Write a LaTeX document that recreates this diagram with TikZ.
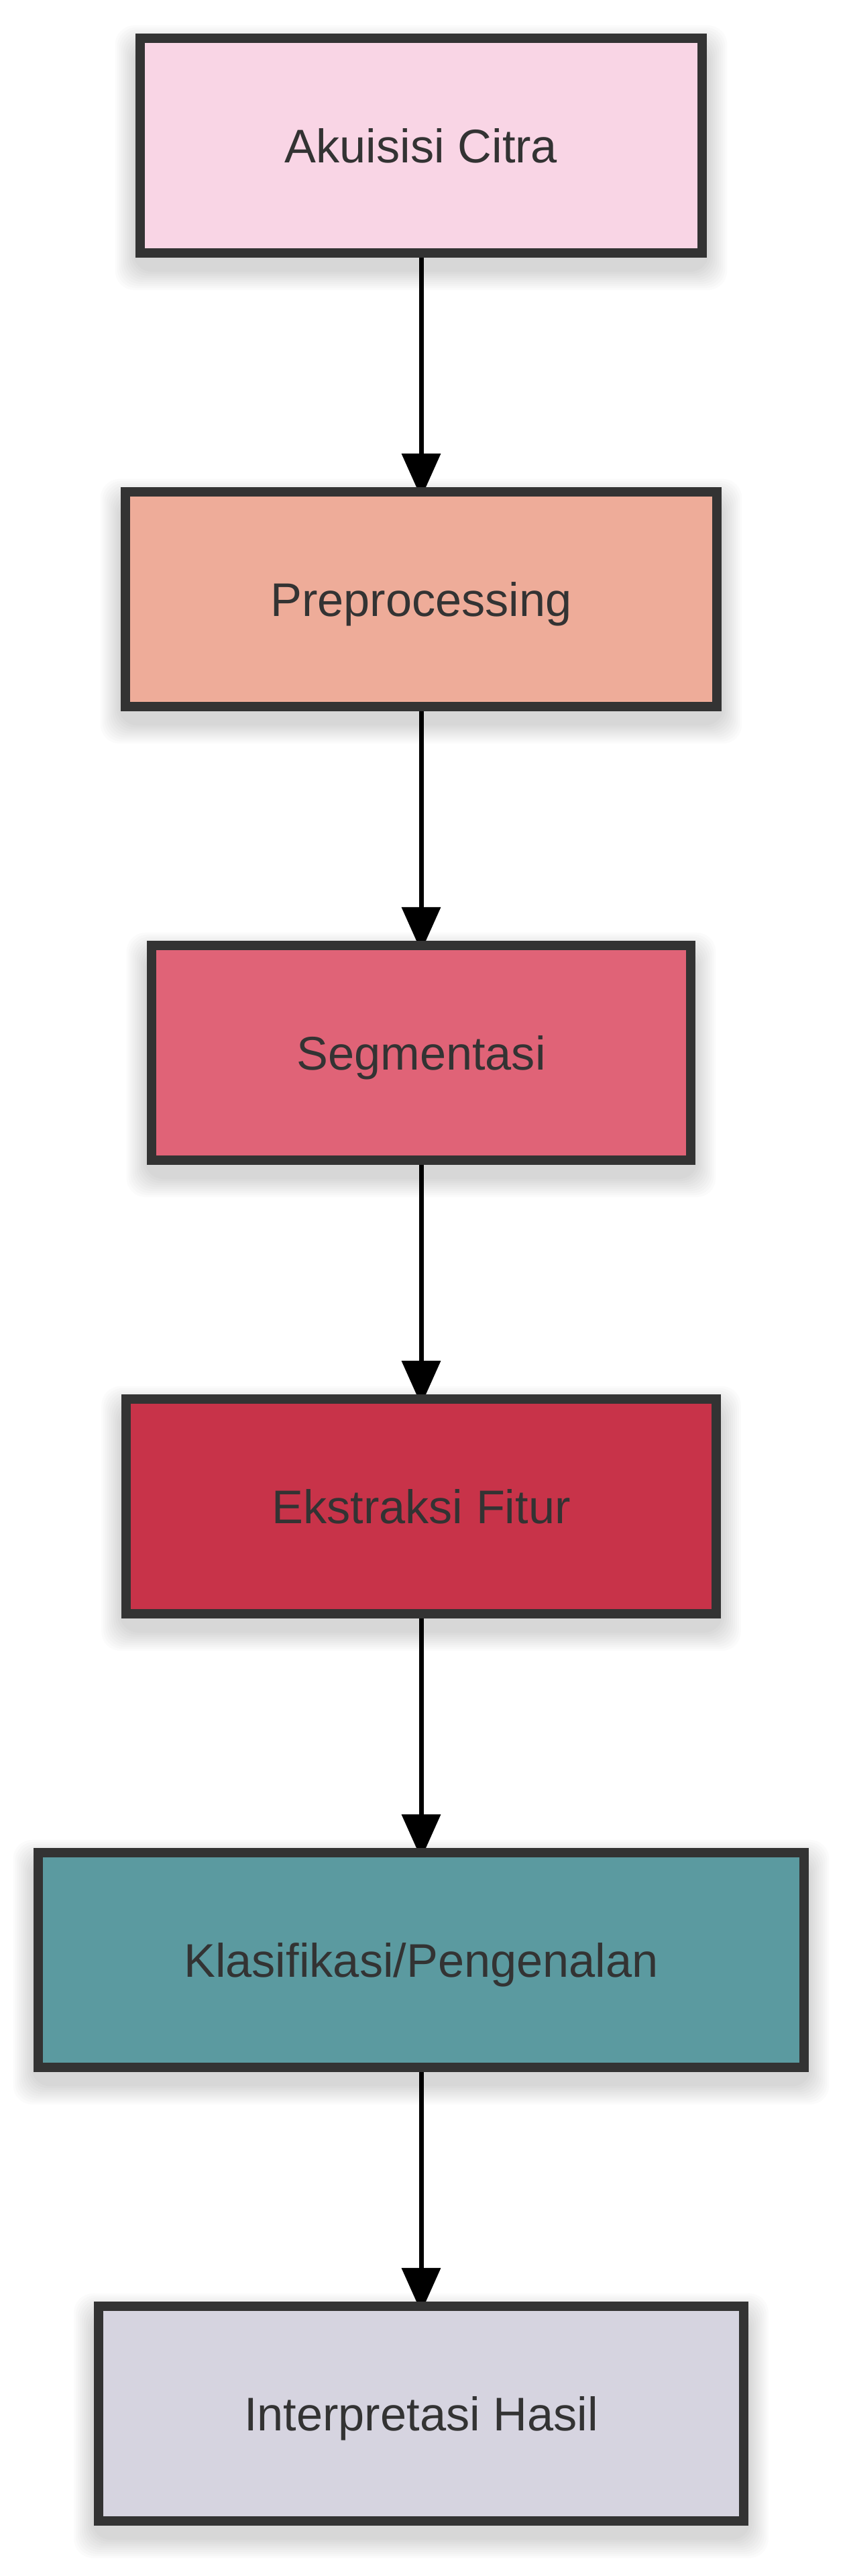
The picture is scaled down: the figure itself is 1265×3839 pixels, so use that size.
\documentclass[tikz,border=0pt]{standalone}
\usepackage{fontspec}
\setmainfont{Liberation Sans}
\usetikzlibrary{arrows.meta}
\definecolor{cA}{HTML}{F9D5E5}
\definecolor{cB}{HTML}{EEAC99}
\definecolor{cC}{HTML}{E06377}
\definecolor{cD}{HTML}{C83349}
\definecolor{cE}{HTML}{5B9AA0}
\definecolor{cF}{HTML}{D6D4E0}
\definecolor{edge}{HTML}{333333}
\pgfdeclarelayer{shadowlayer}
\pgfdeclarelayer{bglayer}
\pgfsetlayers{shadowlayer,bglayer,main}
\begin{document}
\begin{tikzpicture}[x=0.01cm,y=-0.01cm,
  stepbox/.style={draw=edge, line width=0.14cm, minimum height=3.2cm,
    text=edge, font=\fontsize{20}{24}\selectfont,
    text height=14.3pt, text depth=0pt, inner sep=0pt},
  conn/.style={line width=0.07cm, draw=black,
    -{Triangle[length=0.66cm,width=0.57cm]}}]
\useasboundingbox (0,0) rectangle (1265,3839);
\node[stepbox, fill=cA, minimum width=8.38cm] (a) at (628,217) {Akuisisi Citra};
\node[stepbox, fill=cB, minimum width=8.82cm] (b) at (628,893) {Preprocessing};
\node[stepbox, fill=cC, minimum width=8.04cm] (c) at (628,1569) {Segmentasi};
\node[stepbox, fill=cD, minimum width=8.79cm] (d) at (628,2245) {Ekstraksi Fitur};
\node[stepbox, fill=cE, minimum width=11.42cm] (e) at (628,2921) {Klasifikasi/Pengenalan};
\node[stepbox, fill=cF, minimum width=9.61cm] (f) at (628,3597) {Interpretasi Hasil};
\begin{pgfonlayer}{shadowlayer}
\fill[white] (0,0) rectangle (1265,3839);
\foreach \n in {a,b,c,d,e,f}{
  \foreach \i in {1,...,10}{
    \fill[black, opacity=0.016, rounded corners=8pt]
      ([shift={({-3*\i},{-3*\i+18})}]\n.north west) rectangle
      ([shift={({3*\i},{3*\i+18})}]\n.south east);
  }
}
\end{pgfonlayer}
\begin{pgfonlayer}{bglayer}
\draw[conn] (a.south) -- ([yshift=-0.16cm]b.north);
\draw[conn] (b.south) -- ([yshift=-0.16cm]c.north);
\draw[conn] (c.south) -- ([yshift=-0.16cm]d.north);
\draw[conn] (d.south) -- ([yshift=-0.16cm]e.north);
\draw[conn] (e.south) -- ([yshift=-0.16cm]f.north);
\end{pgfonlayer}
\end{tikzpicture}
\end{document}
